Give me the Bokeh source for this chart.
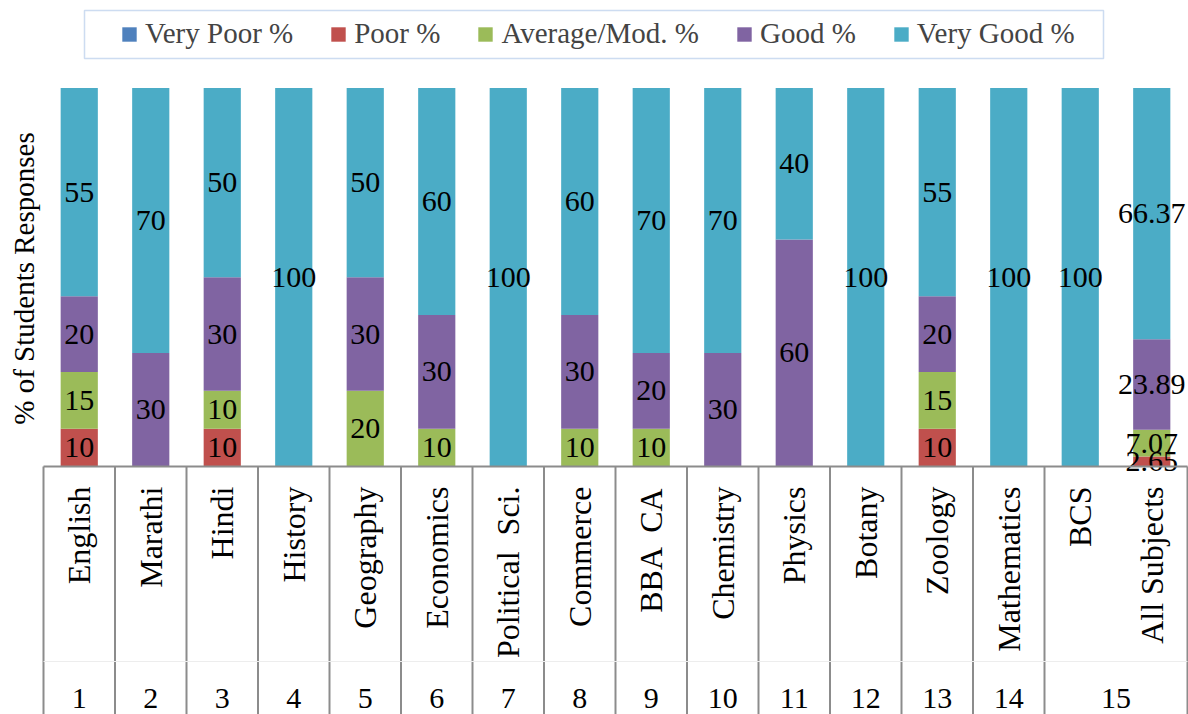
import math
from bokeh.plotting import figure
from bokeh.models import ColumnDataSource, Range1d, Legend, LegendItem, BoxAnnotation
from bokeh.core.properties import value
from bokeh.embed import file_html
from bokeh.resources import INLINE

subjects = ["English", "Marathi", "Hindi", "History", "Geography", "Economics",
            "Political  Sci.", "Commerce", "BBA  CA", "Chemistry", "Physics",
            "Botany", "Zoology", "Mathematics", "BCS", "All Subjects"]
groups = [1, 2, 3, 4, 5, 6, 7, 8, 9, 10, 11, 12, 13, 14, 15, 15]

very_poor = [0, 0, 0, 0, 0, 0, 0, 0, 0, 0, 0, 0, 0, 0, 0, 0]
poor = [10, 0, 10, 0, 0, 0, 0, 0, 0, 0, 0, 0, 10, 0, 0, 2.65]
average = [15, 0, 10, 0, 20, 10, 0, 10, 10, 0, 0, 0, 15, 0, 0, 7.07]
good = [20, 30, 30, 0, 30, 30, 0, 30, 20, 30, 60, 0, 20, 0, 0, 23.89]
very_good = [55, 70, 50, 100, 50, 60, 100, 60, 70, 70, 40, 100, 55, 100, 100, 66.37]

series_names = ["Very Poor %", "Poor %", "Average/Mod. %", "Good %", "Very Good %"]
series_keys = ["vp", "p", "avg", "good", "vg"]
series_vals = [very_poor, poor, average, good, very_good]
colors = ["#4F81BD", "#C0504D", "#9BBB59", "#8064A2", "#4BACC6"]

FONT = "Liberation Serif"
n = len(subjects)
xc = [i + 0.5 for i in range(n)]

W, H = 1188, 714
px_per_x = 71.5
px_per_y = 3.785
x0_page = 43.0
y0_page = 466.0
x_start = -x0_page / px_per_x
x_end = x_start + W / px_per_x
y_top = y0_page / px_per_y
y_bot = y_top - H / px_per_y


def dx(px):
    return (px - x0_page) / px_per_x


def dy(py):
    return (y0_page - py) / px_per_y


p = figure(width=W, height=H, output_backend="svg", toolbar_location=None,
           x_range=Range1d(x_start, x_end), y_range=Range1d(y_bot, y_top),
           min_border=0, outline_line_color=None)
p.xaxis.visible = False
p.yaxis.visible = False
p.xgrid.visible = False
p.ygrid.visible = False

data = dict(x=xc)
for k, v in zip(series_keys, series_vals):
    data[k] = v
src = ColumnDataSource(data)

renderers = p.vbar_stack(series_keys, x="x", width=0.52, source=src,
                         color=colors, line_color=None)

# data labels
lx, ly, lt = [], [], []
for i in range(n):
    base = 0.0
    for v in series_vals:
        val = v[i]
        if val > 0:
            lx.append(xc[i])
            ly.append(base + val / 2.0)
            lt.append(f"{val:g}")
        base += val
p.text(x=lx, y=ly, text=lt, text_align="center", text_baseline="middle",
       text_font=value(FONT), text_font_size="30px", text_color="#000000")

# category table
line_col = "#8C8C8C"
p.segment(x0=[0], y0=[0], x1=[n], y1=[0], line_color=line_col, line_width=2)
seps = [0] + [i for i in range(1, n) if groups[i] != groups[i - 1]] + [n]
p.segment(x0=seps, y0=[0] * len(seps), x1=seps, y1=[y_bot] * len(seps),
          line_color=line_col, line_width=2)
p.segment(x0=[0], y0=[dy(661)], x1=[n], y1=[dy(661)], line_color="#EDEDED", line_width=1)

# keep double spaces visible in SVG
shown_subjects = [s.replace("  ", " \u00a0") for s in subjects]
p.text(x=xc, y=[dy(486)] * n, text=shown_subjects, angle=math.pi / 2,
       text_align="right", text_baseline="middle",
       text_font=value(FONT), text_font_size="32px", text_color="#000000")

glabels = []
gx = []
for g in sorted(set(groups)):
    members = [xc[i] for i in range(n) if groups[i] == g]
    gx.append(sum(members) / len(members))
    glabels.append(str(g))
p.text(x=gx, y=[dy(698)] * len(gx), text=glabels, text_align="center",
       text_baseline="middle", text_font=value(FONT), text_font_size="30px",
       text_color="#000000")

# y axis title
p.text(x=[dx(23)], y=[dy(278)], text=["% of Students Responses"], angle=math.pi / 2,
       text_align="center", text_baseline="middle", text_font=value(FONT),
       text_font_size="29px", text_color="#000000")

# legend
items = [LegendItem(label=nm, renderers=[r]) for nm, r in zip(series_names, renderers)]
legend = Legend(items=items, orientation="horizontal", location=(120, 664),
                padding=4, spacing=36, label_standoff=7, glyph_width=18, glyph_height=18,
                label_text_font=FONT, label_text_font_size="29px",
                border_line_color=None, background_fill_alpha=0)
p.add_layout(legend, "center")
box = BoxAnnotation(left=dx(84), right=dx(1103), top=dy(10), bottom=dy(58),
                    fill_alpha=0, line_color="#5B8BD0", line_width=1.5)
p.add_layout(box)

open("out.html", "w").write(file_html(p, INLINE))
